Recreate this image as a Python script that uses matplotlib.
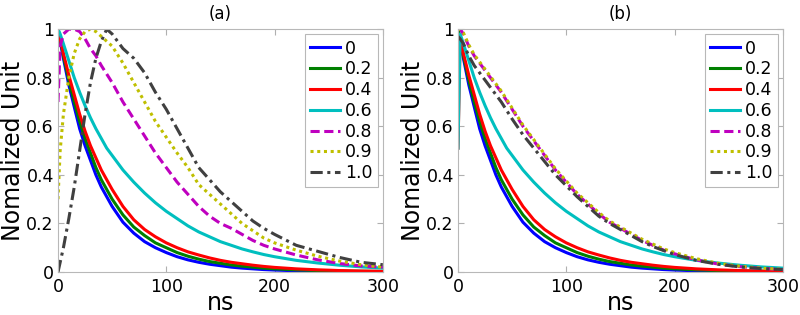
import matplotlib
matplotlib.use('Agg')
import matplotlib.pyplot as plt

# time axis (ns) shared by all curves
t = [0, 2, 5, 10, 15, 20, 25, 30, 35, 40, 45, 50, 60, 70, 80, 90, 100,
     110, 120, 130, 140, 150, 160, 170, 180, 190, 200, 220, 240, 260, 280, 300]

labels = ['0', '0.2', '0.4', '0.6', '0.8', '0.9', '1.0']

# panel (a)
a_00 = [1.0, 0.95, 0.88, 0.77, 0.68, 0.59, 0.52, 0.46, 0.40, 0.35, 0.31, 0.27, 0.205, 0.16, 0.125, 0.10, 0.08,
        0.063, 0.05, 0.04, 0.032, 0.026, 0.02, 0.016, 0.013, 0.01, 0.008, 0.005, 0.003, 0.002, 0.001, 0.001]
a_02 = [1.0, 0.96, 0.89, 0.79, 0.70, 0.62, 0.55, 0.49, 0.43, 0.38, 0.34, 0.30, 0.235, 0.185, 0.15, 0.12, 0.10,
        0.08, 0.065, 0.053, 0.043, 0.036, 0.029, 0.024, 0.02, 0.016, 0.013, 0.009, 0.006, 0.004, 0.003, 0.002]
a_04 = [1.0, 0.96, 0.90, 0.81, 0.73, 0.65, 0.58, 0.52, 0.47, 0.42, 0.38, 0.34, 0.27, 0.215, 0.175, 0.145, 0.12,
        0.10, 0.083, 0.07, 0.058, 0.048, 0.04, 0.034, 0.028, 0.023, 0.019, 0.013, 0.009, 0.006, 0.004, 0.003]
a_06 = [1.0, 0.98, 0.94, 0.87, 0.80, 0.74, 0.685, 0.635, 0.59, 0.55, 0.51, 0.48, 0.42, 0.37, 0.325, 0.285, 0.25,
        0.22, 0.19, 0.165, 0.145, 0.125, 0.11, 0.095, 0.083, 0.072, 0.063, 0.048, 0.037, 0.028, 0.021, 0.016]
a_08 = [0.70, 0.93, 0.98, 1.0, 1.0, 0.99, 0.96, 0.92, 0.89, 0.85, 0.815, 0.78, 0.70, 0.63, 0.56, 0.49, 0.43,
        0.37, 0.32, 0.27, 0.23, 0.20, 0.18, 0.155, 0.13, 0.11, 0.095, 0.07, 0.05, 0.035, 0.025, 0.02]
a_09 = [0.30, 0.50, 0.65, 0.80, 0.90, 0.96, 0.99, 1.0, 0.99, 0.97, 0.95, 0.93, 0.86, 0.78, 0.70, 0.62, 0.555,
        0.49, 0.43, 0.36, 0.32, 0.28, 0.24, 0.20, 0.17, 0.14, 0.12, 0.09, 0.065, 0.045, 0.03, 0.02]
a_10 = [0.0, 0.04, 0.10, 0.22, 0.35, 0.50, 0.65, 0.78, 0.88, 0.95, 1.0, 0.98, 0.92, 0.88, 0.82, 0.74, 0.67,
        0.59, 0.51, 0.43, 0.38, 0.33, 0.29, 0.25, 0.21, 0.18, 0.155, 0.11, 0.085, 0.06, 0.04, 0.03]

# panel (b)
b_00 = a_00
b_02 = a_02
b_04 = [0.51] + a_04[1:]
b_06 = [0.51] + a_06[1:]
b_08 = [1.0, 1.0, 0.98, 0.93, 0.89, 0.86, 0.83, 0.80, 0.77, 0.74, 0.705, 0.67, 0.60, 0.54, 0.48, 0.42, 0.37,
        0.32, 0.28, 0.24, 0.205, 0.18, 0.155, 0.13, 0.11, 0.09, 0.075, 0.05, 0.033, 0.022, 0.015, 0.01]
b_09 = [1.0, 1.0, 0.985, 0.935, 0.895, 0.865, 0.835, 0.805, 0.775, 0.745, 0.71, 0.675, 0.605, 0.545, 0.485, 0.425, 0.375,
        0.325, 0.285, 0.245, 0.21, 0.185, 0.16, 0.135, 0.115, 0.095, 0.08, 0.055, 0.036, 0.024, 0.016, 0.011]
b_10 = [0.97, 0.96, 0.94, 0.89, 0.85, 0.82, 0.79, 0.76, 0.73, 0.70, 0.665, 0.63, 0.565, 0.51, 0.455, 0.40, 0.355,
        0.31, 0.27, 0.23, 0.20, 0.175, 0.15, 0.125, 0.105, 0.088, 0.072, 0.048, 0.032, 0.021, 0.014, 0.01]

colors = ['#0000ff', '#008000', '#ff0000', '#00bfbf', '#bf00bf', '#bfbf00', '#404040']
styles = ['-', '-', '-', '-', (0, (3, 1.5)), (0, (1, 1.2)), (0, (4, 1.5, 1, 1.5))]

fig = plt.figure(figsize=(8, 3.15), dpi=100)
ax1 = fig.add_axes([0.0725, 0.1365, 0.406, 0.771])
ax2 = fig.add_axes([0.5725, 0.1365, 0.406, 0.771])

panels = [(ax1, '(a)', [a_00, a_02, a_04, a_06, a_08, a_09, a_10]),
          (ax2, '(b)', [b_00, b_02, b_04, b_06, b_08, b_09, b_10])]

for ax, title, series in panels:
    for y, c, ls, lab in zip(series, colors, styles, labels):
        ax.plot(t, y, color=c, linestyle=ls, lw=2.2, label=lab)
    ax.set_xlim(0, 300)
    ax.set_ylim(0, 1)
    ax.set_xticks([0, 100, 200, 300])
    ax.set_yticks([0, 0.2, 0.4, 0.6, 0.8, 1])
    ax.set_yticklabels(['0', '0.2', '0.4', '0.6', '0.8', '1'])
    ax.tick_params(direction='in', length=4, color='#b0b0b0', labelsize=12.5,
                   top=True, right=True)
    ax.tick_params(axis='x', pad=4)
    ax.tick_params(axis='y', pad=3)
    for s in ax.spines.values():
        s.set_color('#b8b8b8')
        s.set_linewidth(0.8)
    ax.set_xlabel('ns', fontsize=17, labelpad=-3)
    ax.set_ylabel('Nomalized Unit', fontsize=17, labelpad=1)
    ax.set_title(title, fontsize=12, pad=7)
    leg = ax.legend(loc='upper right', fontsize=12.5, handlelength=1.7, handletextpad=0.3,
                    borderpad=0.3, labelspacing=0.16, fancybox=False, framealpha=1,
                    borderaxespad=0.3)
    leg.get_frame().set_edgecolor('#b8b8b8')
    leg.get_frame().set_linewidth(0.8)

fig.savefig('out.png', dpi=100)
